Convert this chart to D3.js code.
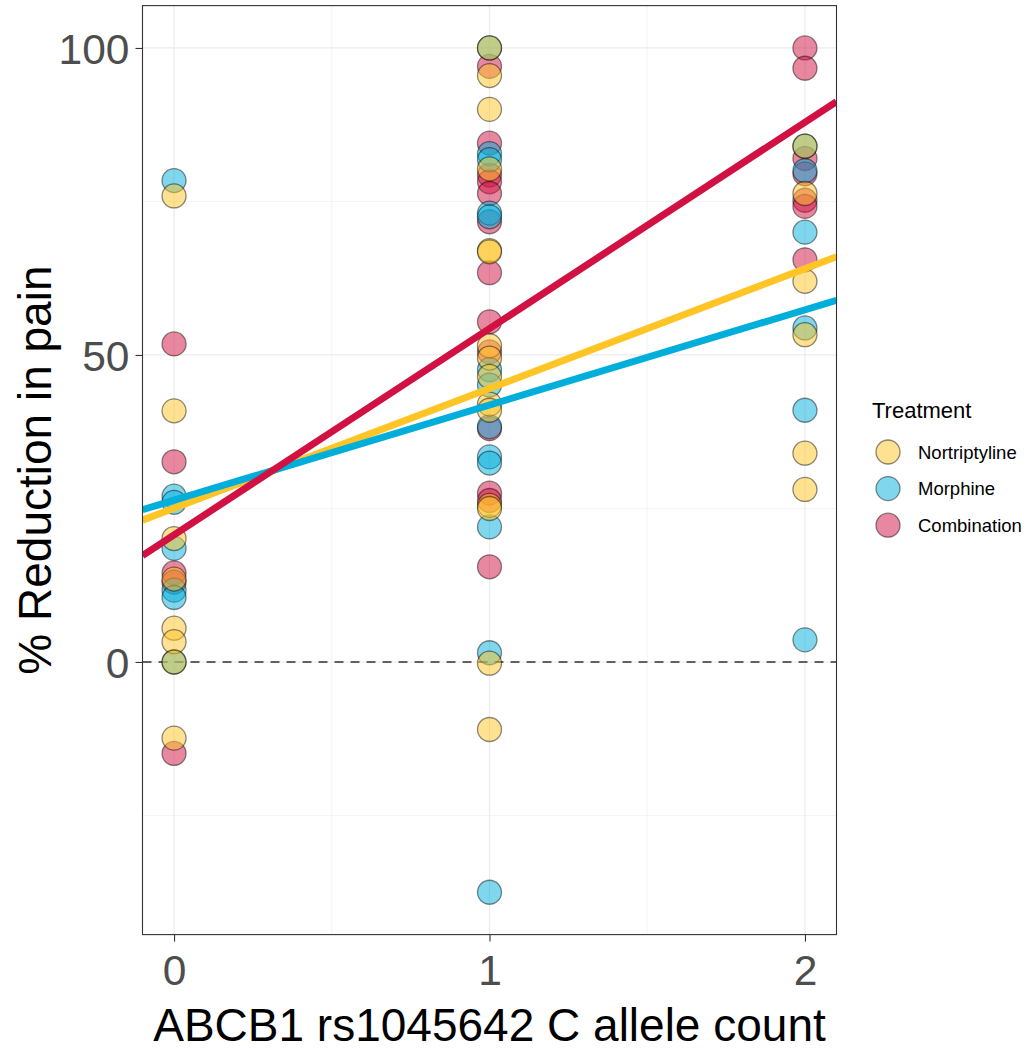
<!DOCTYPE html>
<html>
<head>
<meta charset="utf-8">
<script src="https://cdn.jsdelivr.net/npm/d3@7"></script>
<style>
  html, body { margin: 0; padding: 0; background: #fff; }
  svg { display: block; font-family: "Liberation Sans", Arial, Helvetica, sans-serif; }
</style>
</head>
<body>
<svg id="chart" width="1030" height="1050"></svg>
<script>
// ---------- data ----------
const treatments = ["Nortriptyline", "Morphine", "Combination"];
const pointColors = ["#ffc425", "#00aedb", "#d11141"];

const nortAllele = [0,0,0,0,0,0,0,0, 1,1,1,1,1,1,1,1,1,1,1,1,1,1,1, 2,2,2,2,2,2];
const nortValue  = [75.9,40.9,20.1,13.5,5.5,3.3,0,-12.4,
                    100,95.5,90,80.3,67,66.8,51.5,49.5,46.5,42,41,25.5,25,-0.2,-11,
                    84,76.3,62,53.3,34,28.1];

const morphAllele = [0,0,0,0,0,0,0, 1,1,1,1,1,1,1,1,1,1,1,1,1, 2,2,2,2,2,2];
const morphValue  = [78.4,27,26,18.5,11.7,10.5,0,
                     100,82.8,81.8,73.1,72.5,47.6,45.1,38.3,33.4,32.4,22,1.5,-37.5,
                     84,80,70,54.4,41,3.6];

const combAllele = [0,0,0,0,0, 1,1,1,1,1,1,1,1,1,1,1,1,1, 2,2,2,2,2,2,2];
const combValue  = [51.8,32.6,14.5,13,-14.9,
                    97,84.5,79.3,78.2,76.3,71.7,63.4,55.4,50.5,38,27.5,26.3,15.5,
                    100,96.7,82,79.5,75.2,74.2,65.5];

// fitted regression lines, order = treatments
const fitIntercept = [25.05, 26.35, 20.7];
const fitSlope     = [19.5, 15.5, 33.6];

const xTicks = [0, 1, 2];
const xMinor = [0.5, 1.5];
const yTicks = [0, 50, 100];
const yMinor = [-25, 25, 75];

const xTitle = "ABCB1 rs1045642 C allele count";
const yTitle = "% Reduction in pain";
const legendTitle = "Treatment";

// ---------- layout ----------
const svg = d3.select("#chart");
const panel = { left: 142.5, right: 836.5, top: 5.6, bottom: 934.6 };

const x = d3.scaleLinear().domain([-0.1, 2.1]).range([panel.left, panel.right]);
const y = d3.scaleLinear().domain([-44.4, 106.9]).range([panel.bottom, panel.top]);

const groups = [
  { name: treatments[0], color: pointColors[0], xs: nortAllele, ys: nortValue },
  { name: treatments[1], color: pointColors[1], xs: morphAllele, ys: morphValue },
  { name: treatments[2], color: pointColors[2], xs: combAllele, ys: combValue }
];

// panel background
svg.append("rect").attr("x", panel.left).attr("y", panel.top)
  .attr("width", panel.right - panel.left).attr("height", panel.bottom - panel.top)
  .attr("fill", "#fff");

// grid
const grid = svg.append("g");
grid.selectAll(".ymin").data(yMinor).join("line")
  .attr("x1", panel.left).attr("x2", panel.right)
  .attr("y1", d => y(d)).attr("y2", d => y(d))
  .attr("stroke", "#ebebeb").attr("stroke-width", 0.6);
grid.selectAll(".xmin").data(xMinor).join("line")
  .attr("y1", panel.top).attr("y2", panel.bottom)
  .attr("x1", d => x(d)).attr("x2", d => x(d))
  .attr("stroke", "#ebebeb").attr("stroke-width", 0.6);
grid.selectAll(".ymaj").data(yTicks).join("line")
  .attr("x1", panel.left).attr("x2", panel.right)
  .attr("y1", d => y(d)).attr("y2", d => y(d))
  .attr("stroke", "#ebebeb").attr("stroke-width", 1.2);
grid.selectAll(".xmaj").data(xTicks).join("line")
  .attr("y1", panel.top).attr("y2", panel.bottom)
  .attr("x1", d => x(d)).attr("x2", d => x(d))
  .attr("stroke", "#ebebeb").attr("stroke-width", 1.2);

// dashed zero line
svg.append("line")
  .attr("x1", panel.left).attr("x2", panel.right)
  .attr("y1", y(0)).attr("y2", y(0))
  .attr("stroke", "#333").attr("stroke-width", 1.6)
  .attr("stroke-dasharray", "9,7");

// points (drawn Combination, Morphine, Nortriptyline so overlaps blend as in the reference)
const clip = svg.append("clipPath").attr("id", "pclip").append("rect")
  .attr("x", panel.left).attr("y", panel.top)
  .attr("width", panel.right - panel.left).attr("height", panel.bottom - panel.top);

const pts = svg.append("g");
groups.slice().reverse().forEach(g => {
  pts.append("g").selectAll("circle")
    .data(g.xs.map((xv, i) => [xv, g.ys[i]]))
    .join("circle")
    .attr("cx", d => x(d[0])).attr("cy", d => y(d[1]))
    .attr("r", 12)
    .attr("fill", g.color).attr("fill-opacity", 0.5)
    .attr("stroke", "#000").attr("stroke-opacity", 0.45).attr("stroke-width", 1.3);
});

// regression lines
const lines = svg.append("g").attr("clip-path", "url(#pclip)");
groups.forEach((g, i) => {
  const x0 = -0.1, x1 = 2.1;
  lines.append("line")
    .attr("x1", x(x0)).attr("y1", y(fitIntercept[i] + fitSlope[i] * x0))
    .attr("x2", x(x1)).attr("y2", y(fitIntercept[i] + fitSlope[i] * x1))
    .attr("stroke", g.color).attr("stroke-width", 7);
});

// panel border
svg.append("rect").attr("x", panel.left).attr("y", panel.top)
  .attr("width", panel.right - panel.left).attr("height", panel.bottom - panel.top)
  .attr("fill", "none").attr("stroke", "#333").attr("stroke-width", 1.1);

// axes
const yAxis = svg.append("g").attr("transform", `translate(${panel.left},0)`)
  .call(d3.axisLeft(y).tickValues(yTicks).tickSize(7).tickPadding(6).tickFormat(d3.format("d")));
const xAxis = svg.append("g").attr("transform", `translate(0,${panel.bottom})`)
  .call(d3.axisBottom(x).tickValues(xTicks).tickSize(7).tickPadding(13).tickFormat(d3.format("d")));
[yAxis, xAxis].forEach(a => {
  a.select(".domain").remove();
  a.selectAll(".tick line").attr("stroke", "#333").attr("stroke-width", 1.1);
  a.selectAll(".tick text").attr("fill", "#4d4d4d").attr("font-size", 42.5)
    .attr("font-family", "Liberation Sans, Arial, sans-serif");
});
yAxis.selectAll(".tick text").attr("dy", "0.36em");

// axis titles
svg.append("text").attr("x", (panel.left + panel.right) / 2).attr("y", 1041)
  .attr("text-anchor", "middle").attr("font-size", 46).attr("fill", "#000")
  .text(xTitle);
svg.append("text")
  .attr("transform", `translate(51,${(panel.top + panel.bottom) / 2}) rotate(-90)`)
  .attr("text-anchor", "middle").attr("font-size", 46).attr("fill", "#000")
  .text(yTitle);

// legend
const leg = svg.append("g");
leg.append("text").attr("x", 872).attr("y", 418).attr("font-size", 22).attr("fill", "#000")
  .text(legendTitle);
groups.forEach((g, i) => {
  const cy = 452 + i * 36.6;
  leg.append("circle").attr("cx", 888).attr("cy", cy).attr("r", 12)
    .attr("fill", g.color).attr("fill-opacity", 0.5)
    .attr("stroke", "#000").attr("stroke-opacity", 0.45).attr("stroke-width", 1.3);
  leg.append("text").attr("x", 918).attr("y", cy + 6.5).attr("font-size", 18.5).attr("fill", "#000")
    .text(g.name);
});
</script>
</body>
</html>
